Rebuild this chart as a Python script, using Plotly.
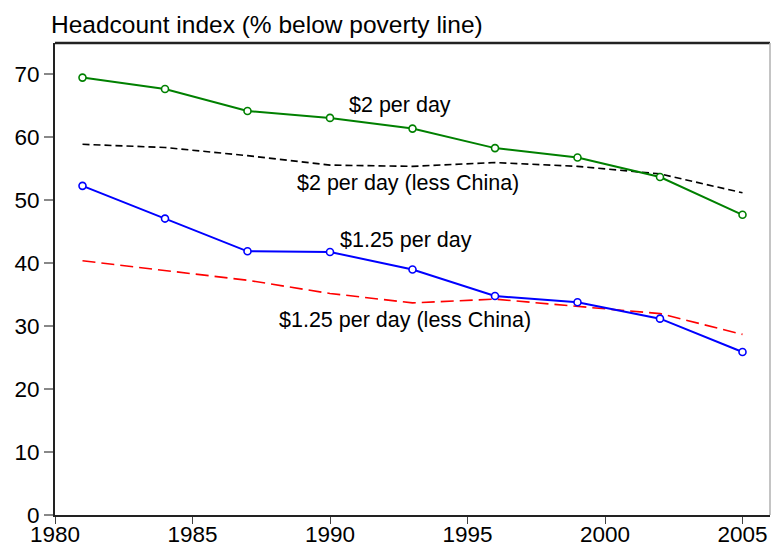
import plotly.graph_objects as go

years = [1981, 1984, 1987, 1990, 1993, 1996, 1999, 2002, 2005]
two_dollar = [69.5, 67.7, 64.2, 63.1, 61.4, 58.3, 56.8, 53.7, 47.7]
two_dollar_less_china = [58.9, 58.4, 57.1, 55.6, 55.4, 56.0, 55.4, 54.2, 51.2]
one25_dollar = [52.3, 47.1, 41.9, 41.8, 39.0, 34.8, 33.8, 31.2, 25.9]
one25_dollar_less_china = [40.4, 38.9, 37.3, 35.2, 33.7, 34.3, 33.1, 32.0, 28.7]

x_ticks = [1980, 1985, 1990, 1995, 2000, 2005]
y_ticks = [0, 10, 20, 30, 40, 50, 60, 70]

labels = [
    ("$2 per day", 1992.56, 65.1),
    ("$2 per day (less China)", 1992.85, 52.7),
    ("$1.25 per day", 1992.77, 43.65),
    ("$1.25 per day (less China)", 1992.74, 31.06),
]

FONT = "Liberation Sans, Arial, sans-serif"

fig = go.Figure()
fig.add_trace(go.Scatter(
    x=years, y=two_dollar_less_china, mode="lines",
    line=dict(color="black", width=1.6, dash="7px,4px"), showlegend=False))
fig.add_trace(go.Scatter(
    x=years, y=one25_dollar_less_china, mode="lines",
    line=dict(color="#ff0000", width=1.6, dash="13px,6px"), showlegend=False))
fig.add_trace(go.Scatter(
    x=years, y=two_dollar, mode="lines+markers",
    line=dict(color="#008000", width=2),
    marker=dict(symbol="circle", size=7, color="white",
                line=dict(color="#008000", width=1.6)),
    showlegend=False))
fig.add_trace(go.Scatter(
    x=years, y=one25_dollar, mode="lines+markers",
    line=dict(color="#0000ff", width=2),
    marker=dict(symbol="circle", size=7, color="white",
                line=dict(color="#0000ff", width=1.6)),
    showlegend=False))

for text, lx, ly in labels:
    fig.add_annotation(x=lx, y=ly, text=text, showarrow=False,
                       xanchor="center", yanchor="middle",
                       font=dict(family=FONT, size=21.5, color="black"))

# top and right frame
fig.add_shape(type="line", xref="paper", yref="paper", x0=0, x1=1, y0=1, y1=1,
              line=dict(color="#222222", width=2.5))
fig.add_shape(type="line", xref="paper", yref="paper", x0=1, x1=1, y0=0, y1=1,
              line=dict(color="#b0b0b0", width=1.5))

fig.update_layout(
    width=771, height=546,
    margin=dict(l=55, r=1, t=43, b=31, autoexpand=False),
    paper_bgcolor="white", plot_bgcolor="white",
    font=dict(family=FONT, size=22, color="black"),
    title=dict(text="Headcount index (% below poverty line)",
               xref="container", yref="container",
               x=51 / 771, xanchor="left",
               y=1 - 24 / 546, yanchor="middle",
               font=dict(family=FONT, size=24.5, color="black"),
               automargin=False),
    xaxis=dict(range=[1980, 2006], tickvals=x_ticks, ticktext=[str(v) for v in x_ticks],
               showgrid=False, zeroline=False, showline=True, automargin=False,
               linecolor="#222222", linewidth=2,
               ticks="outside", ticklen=7, tickcolor="#444444", tickwidth=1,
               ticklabelstandoff=-9,
               tickfont=dict(size=22.5)),
    yaxis=dict(range=[0, 75], tickvals=y_ticks, ticktext=[str(v) for v in y_ticks],
               showgrid=False, zeroline=False, showline=True, automargin=False,
               linecolor="#222222", linewidth=2,
               ticks="outside", ticklen=9, tickcolor="#888888", tickwidth=1.5,
               tickfont=dict(size=22.5)),
)

fig.write_html(
    "out.html",
    config={"displayModeBar": False},
    post_script="document.body.style.margin='0';document.body.style.padding='0';",
)
